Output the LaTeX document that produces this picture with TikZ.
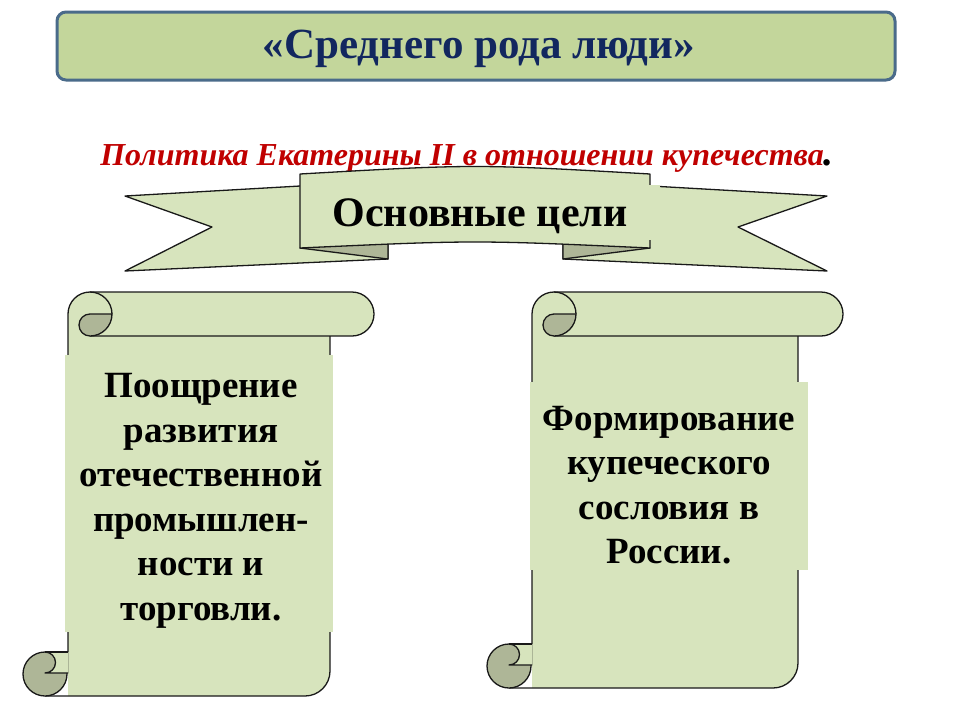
\documentclass[tikz,border=0pt]{standalone}
\usepackage{fontspec}
\setmainfont{Liberation Serif}
\definecolor{titlefill}{HTML}{C3D69B}
\definecolor{titleborder}{HTML}{4A6B8A}
\definecolor{titletext}{HTML}{12275F}
\definecolor{lightfill}{HTML}{D7E4BD}
\definecolor{darkfill}{HTML}{AEB697}
\definecolor{subred}{HTML}{C00000}
\newcommand\scrollshape[4]{%
  % #1 body left, #2 body right, #3 roll end centre x, #4 bottom y
  \fill[lightfill] (#1,#4) -- (#1,314) arc[start angle=180,end angle=270,radius=22]
    -- (#3,292) arc[start angle=270,end angle=450,radius=22] -- (#2,336)
    -- (#2,{#4-25}) arc[start angle=0,end angle=90,radius=25] -- cycle;
  \draw[outl] (#1,{#4-23}) -- (#1,314) arc[start angle=180,end angle=270,radius=22]
    -- (#3,292) arc[start angle=270,end angle=450,radius=22] -- ({#1+22},336);
  \draw[outl] (#2,336) -- (#2,{#4-25}) arc[start angle=0,end angle=90,radius=25] -- ({#1-23},#4);
  \filldraw[fill=darkfill, outl] ({#1+22},314) -- ({#1+44},314) arc[start angle=0,end angle=90,radius=22]
    arc[start angle=90,end angle=270,radius=11] -- cycle;
  \draw[outl] ({#1+22},292) arc[start angle=270,end angle=360,radius=22];
  \filldraw[fill=darkfill, outl] ({#1-23},{#4-22}) circle[radius=22];
  \fill[lightfill] ({#1-23},{#4-44}) -- ({#1+0.5},{#4-44}) -- ({#1+0.5},{#4-23}) -- ({#1-23},{#4-23})
    arc[start angle=90,end angle=-90,radius=10.5] -- cycle;
  \draw[outl] ({#1-23},{#4-44}) -- (#1,{#4-44});
  \draw[outl] (#1,{#4-23}) -- ({#1-23},{#4-23}) arc[start angle=90,end angle=-90,radius=10.5];
}
\begin{document}
\begin{tikzpicture}[x=1pt,y=-1pt,line join=round,
  outl/.style={draw=black!90,line width=1.3pt},
  titlebox/.style={draw=titleborder,line width=3pt,fill=titlefill,rounded corners=9pt,
    minimum width=838pt,minimum height=68pt,inner sep=0pt},
  titletxt/.style={text=titletext,font=\fontsize{43}{46}\selectfont\bfseries,inner sep=0pt},
  subtxt/.style={text=subred,font=\fontsize{32}{36}\selectfont\bfseries\itshape,inner sep=0pt},
  ribtxt/.style={text=black,font=\fontsize{42}{46}\selectfont\bfseries,inner sep=0pt},
  scrolltxt/.style={text=black,align=center,font=\fontsize{37}{44.5}\selectfont\bfseries,inner sep=0pt}]
\useasboundingbox (0,0) rectangle (960,720);
\fill[white] (0,0) rectangle (960,720);

% title
\node[titlebox] (title) at (476,46) {};
\node[titletxt] (titletext) at (479,49) {«Среднего рода люди»};

% subtitle
\node[subtxt] (sub) at (467,158) {Политика Екатерины II в отношении купечества{\color{black}\fontsize{40}{40}\selectfont.}};

% ribbon: tails
\filldraw[fill=lightfill,outl] (125,196) -- (212,227) -- (125,271) -- (388,259) -- (388,181) -- cycle;
\filldraw[fill=lightfill,outl] (827,196) -- (738,227) -- (827,271) -- (563,259) -- (563,181) -- cycle;
% folds
\filldraw[fill=darkfill,outl] (300,248) -- (388,240) -- (388,259) -- cycle;
\filldraw[fill=darkfill,outl] (650,248) -- (563,240) -- (563,259) -- cycle;
% main panel
\filldraw[fill=lightfill,outl] (300,174) .. controls (475,164) .. (650,174) -- (650,248)
  .. controls (475,240) .. (300,248) -- cycle;
\fill[lightfill] (301.5,185) rectangle (660,240);
\node[ribtxt] (goals) at (480,216) {Основные цели};

% scrolls
\scrollshape{68}{330}{352}{696}
\fill[lightfill] (65,355) rectangle (333,632);
\node[scrolltxt] (left) at (201,501) {Поощрение\\развития\\отечественной\\промышлен-\\ности и\\торговли.};

\scrollshape{532}{798}{821}{688}
\fill[lightfill] (530,382) rectangle (808,570);
\node[scrolltxt] (right) at (669,485) {Формирование\\купеческого\\сословия в\\России.};
\end{tikzpicture}
\end{document}
